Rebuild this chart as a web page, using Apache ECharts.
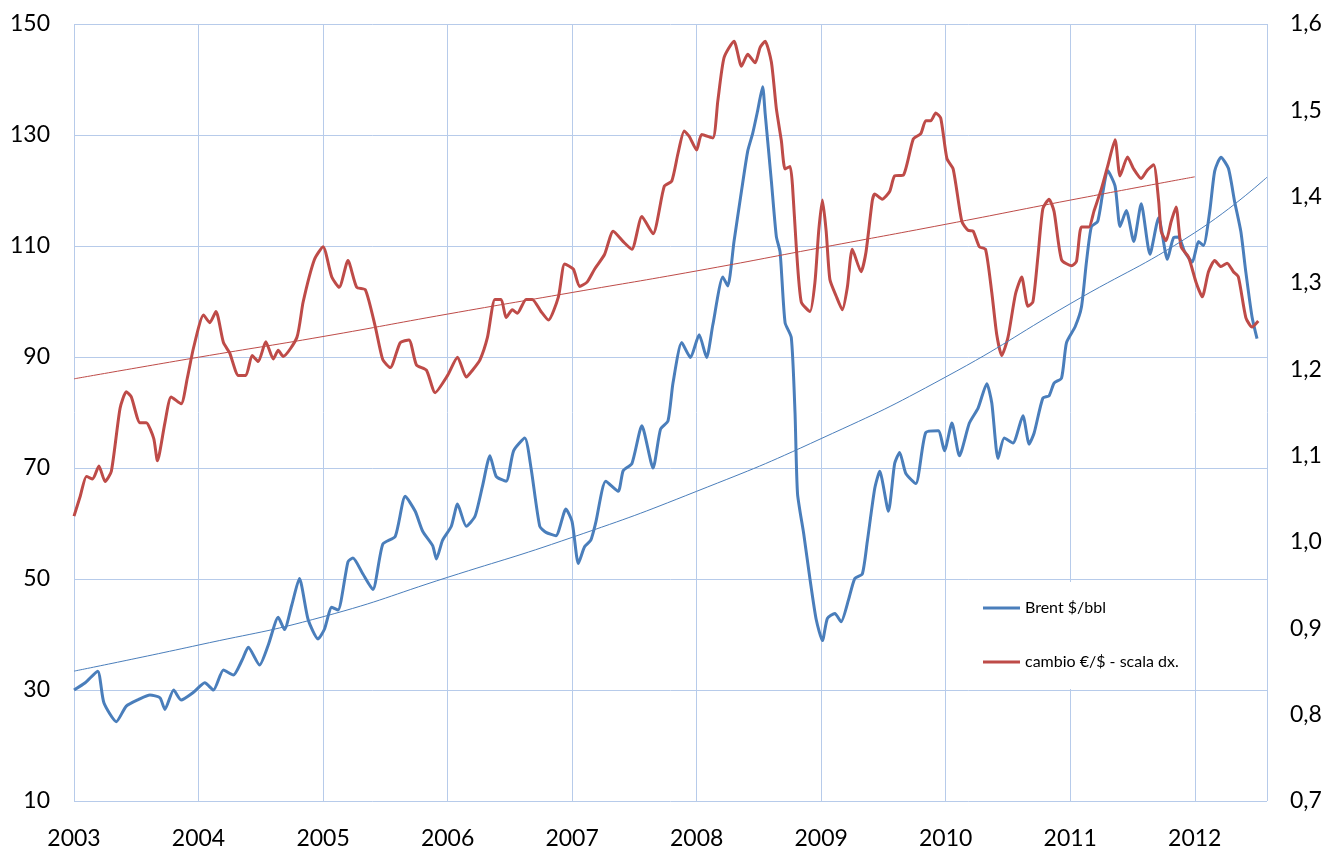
<!DOCTYPE html>
<html>
<head>
<meta charset="utf-8">
<script src="https://cdn.jsdelivr.net/npm/echarts@6/dist/echarts.min.js"></script>
<style>
  html, body { margin: 0; padding: 0; background: #fff; }
  #chart { width: 1328px; height: 850px; }
</style>
</head>
<body>
<div id="chart"></div>
<script>
// Brent, $/bbl (left scale) - dates as decimal years
const brentDates = [
  2003.00, 2003.09, 2003.19, 2003.24, 2003.34, 2003.42, 2003.52, 2003.61, 2003.69, 2003.73,
  2003.80, 2003.86, 2003.96, 2004.05, 2004.12, 2004.20, 2004.28, 2004.35, 2004.40, 2004.49,
  2004.56, 2004.64, 2004.69, 2004.75, 2004.81, 2004.88, 2004.96, 2005.01, 2005.07, 2005.12,
  2005.20, 2005.24, 2005.32, 2005.40, 2005.48, 2005.58, 2005.66, 2005.74, 2005.80, 2005.88,
  2005.91, 2005.96, 2006.03, 2006.08, 2006.15, 2006.22, 2006.28, 2006.34, 2006.39, 2006.47,
  2006.53, 2006.62, 2006.67, 2006.74, 2006.79, 2006.87, 2006.95, 2007.00, 2007.05, 2007.10,
  2007.15, 2007.19, 2007.27, 2007.37, 2007.41, 2007.48, 2007.56, 2007.65, 2007.71, 2007.77,
  2007.81, 2007.88, 2007.95, 2008.02, 2008.08, 2008.13, 2008.21, 2008.25, 2008.30, 2008.36,
  2008.41, 2008.45, 2008.49, 2008.53, 2008.55, 2008.60, 2008.64, 2008.67, 2008.71, 2008.76,
  2008.79, 2008.81, 2008.86, 2008.91, 2008.96, 2009.01, 2009.05, 2009.11, 2009.16, 2009.22,
  2009.27, 2009.33, 2009.37, 2009.43, 2009.47, 2009.54, 2009.59, 2009.63, 2009.68, 2009.76,
  2009.84, 2009.94, 2009.99, 2010.05, 2010.11, 2010.19, 2010.26, 2010.33, 2010.37, 2010.42,
  2010.47, 2010.54, 2010.62, 2010.67, 2010.71, 2010.78, 2010.83, 2010.87, 2010.93, 2010.97,
  2011.04, 2011.09, 2011.13, 2011.17, 2011.22, 2011.26, 2011.30, 2011.36, 2011.40, 2011.45,
  2011.51, 2011.57, 2011.64, 2011.71, 2011.78, 2011.83, 2011.87, 2011.92, 2011.98, 2012.03,
  2012.07, 2012.12, 2012.16, 2012.21, 2012.27, 2012.32, 2012.37, 2012.41, 2012.46, 2012.50
];
const brentValues = [
  30.0, 31.3, 33.4, 27.7, 24.3, 27.1, 28.3, 29.1, 28.6, 26.5,
  30.0, 28.2, 29.6, 31.3, 30.0, 33.6, 32.7, 35.4, 37.7, 34.5,
  38.1, 43.1, 40.9, 45.4, 50.1, 42.7, 39.2, 40.9, 44.9, 44.4,
  53.1, 53.8, 50.9, 48.1, 56.3, 57.7, 64.9, 62.2, 58.6, 56.0,
  53.6, 57.0, 59.5, 63.5, 59.5, 61.3, 66.7, 72.2, 68.5, 67.6,
  73.1, 75.4, 70.0, 59.5, 58.4, 57.8, 62.6, 60.3, 52.8, 55.8,
  57.0, 60.2, 67.6, 65.8, 69.5, 70.8, 77.6, 70.0, 77.0, 78.5,
  85.3, 92.6, 89.9, 94.0, 89.9, 95.8, 104.4, 102.8, 110.8, 119.9,
  127.1, 130.3, 134.4, 138.7, 133.9, 121.7, 111.7, 108.9, 96.2, 93.5,
  79.9, 65.4, 58.1, 50.0, 42.7, 38.9, 42.9, 43.8, 42.3, 46.3,
  50.1, 50.9, 56.7, 66.3, 69.4, 62.2, 70.8, 72.8, 69.0, 67.2,
  76.4, 76.7, 73.1, 78.1, 72.2, 78.1, 80.8, 85.2, 81.7, 71.7,
  75.4, 74.5, 79.4, 74.3, 76.3, 82.6, 83.0, 85.3, 86.2, 92.6,
  95.5, 99.0, 107.1, 113.5, 114.4, 119.4, 123.6, 120.8, 113.5, 116.4,
  110.8, 117.6, 108.5, 115.1, 107.6, 111.5, 111.6, 108.9, 107.1, 110.8,
  110.1, 116.2, 123.5, 126.0, 124.0, 118.0, 112.6, 105.3, 97.2, 93.3
];

// EUR/USD exchange rate (right scale)
const fxDates = [
  2003.00, 2003.05, 2003.10, 2003.15, 2003.20, 2003.25, 2003.30, 2003.37, 2003.42, 2003.46,
  2003.53, 2003.58, 2003.64, 2003.67, 2003.73, 2003.78, 2003.86, 2003.91, 2003.96, 2004.04,
  2004.09, 2004.14, 2004.20, 2004.25, 2004.32, 2004.38, 2004.43, 2004.48, 2004.54, 2004.60,
  2004.64, 2004.68, 2004.79, 2004.84, 2004.93, 2005.00, 2005.07, 2005.13, 2005.20, 2005.27,
  2005.34, 2005.42, 2005.48, 2005.54, 2005.62, 2005.69, 2005.75, 2005.83, 2005.90, 2006.00,
  2006.08, 2006.15, 2006.20, 2006.26, 2006.32, 2006.38, 2006.43, 2006.47, 2006.52, 2006.56,
  2006.63, 2006.68, 2006.75, 2006.81, 2006.89, 2006.94, 2007.01, 2007.06, 2007.12, 2007.18,
  2007.26, 2007.33, 2007.41, 2007.48, 2007.56, 2007.65, 2007.74, 2007.80, 2007.85, 2007.90,
  2007.94, 2008.00, 2008.04, 2008.13, 2008.17, 2008.22, 2008.30, 2008.36, 2008.41, 2008.47,
  2008.51, 2008.55, 2008.60, 2008.64, 2008.68, 2008.71, 2008.75, 2008.77, 2008.80, 2008.84,
  2008.91, 2008.95, 2008.98, 2009.01, 2009.04, 2009.07, 2009.12, 2009.17, 2009.21, 2009.25,
  2009.32, 2009.36, 2009.41, 2009.43, 2009.49, 2009.55, 2009.59, 2009.66, 2009.74, 2009.80,
  2009.84, 2009.88, 2009.92, 2009.96, 2010.01, 2010.06, 2010.13, 2010.18, 2010.22, 2010.27,
  2010.32, 2010.37, 2010.41, 2010.45, 2010.50, 2010.56, 2010.61, 2010.66, 2010.70, 2010.74,
  2010.78, 2010.83, 2010.87, 2010.93, 2011.01, 2011.05, 2011.09, 2011.15, 2011.19, 2011.25,
  2011.30, 2011.36, 2011.40, 2011.46, 2011.51, 2011.57, 2011.62, 2011.67, 2011.71, 2011.73,
  2011.77, 2011.81, 2011.85, 2011.89, 2011.95, 2012.01, 2012.06, 2012.11, 2012.16, 2012.21,
  2012.26, 2012.31, 2012.35, 2012.41, 2012.46, 2012.51
];
const fxValues = [
  1.030, 1.053, 1.076, 1.073, 1.088, 1.070, 1.082, 1.155, 1.174, 1.168,
  1.138, 1.138, 1.120, 1.094, 1.138, 1.168, 1.160, 1.190, 1.225, 1.263,
  1.254, 1.267, 1.231, 1.219, 1.193, 1.193, 1.216, 1.209, 1.232, 1.212,
  1.222, 1.215, 1.237, 1.278, 1.327, 1.342, 1.307, 1.295, 1.326, 1.295,
  1.292, 1.249, 1.211, 1.202, 1.231, 1.234, 1.205, 1.199, 1.173, 1.193,
  1.214, 1.191, 1.199, 1.211, 1.237, 1.281, 1.281, 1.260, 1.269, 1.265,
  1.281, 1.281, 1.267, 1.257, 1.284, 1.322, 1.316, 1.296, 1.301, 1.316,
  1.333, 1.360, 1.348, 1.339, 1.377, 1.357, 1.412, 1.418, 1.450, 1.476,
  1.470, 1.454, 1.472, 1.468, 1.511, 1.561, 1.580, 1.551, 1.565, 1.555,
  1.573, 1.580, 1.556, 1.502, 1.465, 1.432, 1.435, 1.412, 1.342, 1.278,
  1.267, 1.301, 1.360, 1.396, 1.360, 1.304, 1.285, 1.269, 1.295, 1.339,
  1.313, 1.336, 1.395, 1.403, 1.397, 1.406, 1.424, 1.425, 1.467, 1.473,
  1.488, 1.488, 1.497, 1.491, 1.444, 1.432, 1.371, 1.361, 1.360, 1.342,
  1.339, 1.289, 1.240, 1.216, 1.237, 1.287, 1.307, 1.273, 1.278, 1.330,
  1.386, 1.397, 1.383, 1.327, 1.320, 1.325, 1.365, 1.365, 1.383, 1.409,
  1.435, 1.466, 1.424, 1.446, 1.432, 1.421, 1.431, 1.437, 1.395, 1.360,
  1.349, 1.371, 1.388, 1.342, 1.330, 1.301, 1.284, 1.313, 1.326, 1.319,
  1.323, 1.313, 1.307, 1.260, 1.249, 1.256
];

// trend lines, read at year marks
const brentTrendDates = [2003, 2004, 2005, 2006, 2007, 2008, 2009, 2010, 2011, 2012, 2012.58];
const brentTrendValues = [33.4, 38.1, 43.2, 50.3, 57.5, 65.8, 75.3, 86.4, 99.6, 112.4, 122.4];
const fxTrendDates = [2003, 2004, 2005, 2006, 2007, 2008, 2009, 2010, 2011, 2012];
const fxTrendValues = [1.189, 1.214, 1.238, 1.264, 1.289, 1.314, 1.341, 1.368, 1.396, 1.423];

const leftTicks = { min: 10, max: 150, step: 20 };
const rightTicks = { min: 0.7, max: 1.6, step: 0.1 };
const yearRange = { min: 2003, max: 2012.58 };

const BLUE = '#4a7ebb';
const RED = '#be4b48';
const GRID = '#b7cbea';
const FONT = 'Lato';

const zip = (xs, ys) => xs.map((x, i) => [x, ys[i]]);

const chart = echarts.init(document.getElementById('chart'));
chart.setOption({
  animation: false,
  backgroundColor: '#fff',
  textStyle: { fontFamily: FONT, color: '#000' },
  grid: { left: 74, right: 61, top: 24, bottom: 48 },
  legend: {
    orient: 'vertical',
    left: 975,
    top: 582,
    padding: [18, 8, 19, 8],
    backgroundColor: '#fff',
    icon: 'rect',
    itemWidth: 37,
    itemHeight: 3,
    itemGap: 38,
    textStyle: { fontFamily: FONT, fontSize: 16, color: '#000' },
    data: ['Brent $/bbl', 'cambio €/$ - scala dx.'],
  },
  xAxis: {
    type: 'value',
    min: yearRange.min,
    max: yearRange.max,
    interval: 1,
    axisLine: { show: false },
    axisTick: { show: false },
    axisLabel: {
      fontSize: 23,
      color: '#000',
      margin: 26,
      showMaxLabel: false,
      formatter: (v) => String(Math.round(v)),
    },
    splitLine: { show: true, lineStyle: { color: GRID, width: 1 } },
  },
  yAxis: [
    {
      type: 'value',
      min: leftTicks.min,
      max: leftTicks.max,
      interval: leftTicks.step,
      axisLine: { show: false },
      axisTick: { show: false },
      axisLabel: { fontSize: 23, color: '#000', margin: 24 },
      splitLine: { lineStyle: { color: GRID, width: 1 } },
    },
    {
      type: 'value',
      position: 'right',
      min: rightTicks.min,
      max: rightTicks.max,
      interval: rightTicks.step,
      axisLine: { show: false },
      axisTick: { show: false },
      axisLabel: {
        fontSize: 23,
        color: '#000',
        margin: 23,
        formatter: (v) => v.toFixed(1).replace('.', ','),
      },
      splitLine: { show: false },
    },
  ],
  series: [
    {
      name: 'Brent $/bbl',
      type: 'line',
      data: zip(brentDates, brentValues),
      showSymbol: false,
      smooth: 0.2,
      itemStyle: { color: BLUE },
      lineStyle: { color: BLUE, width: 3 },
      silent: true,
    },
    {
      name: 'cambio €/$ - scala dx.',
      type: 'line',
      yAxisIndex: 1,
      data: zip(fxDates, fxValues),
      showSymbol: false,
      smooth: 0.2,
      itemStyle: { color: RED },
      lineStyle: { color: RED, width: 3 },
      silent: true,
    },
    {
      name: 'trend Brent',
      type: 'line',
      data: zip(brentTrendDates, brentTrendValues),
      showSymbol: false,
      smooth: true,
      lineStyle: { color: BLUE, width: 1 },
      silent: true,
    },
    {
      name: 'trend cambio',
      type: 'line',
      yAxisIndex: 1,
      data: zip(fxTrendDates, fxTrendValues),
      showSymbol: false,
      smooth: true,
      lineStyle: { color: RED, width: 1 },
      silent: true,
    },
  ],
});
</script>
</body>
</html>
